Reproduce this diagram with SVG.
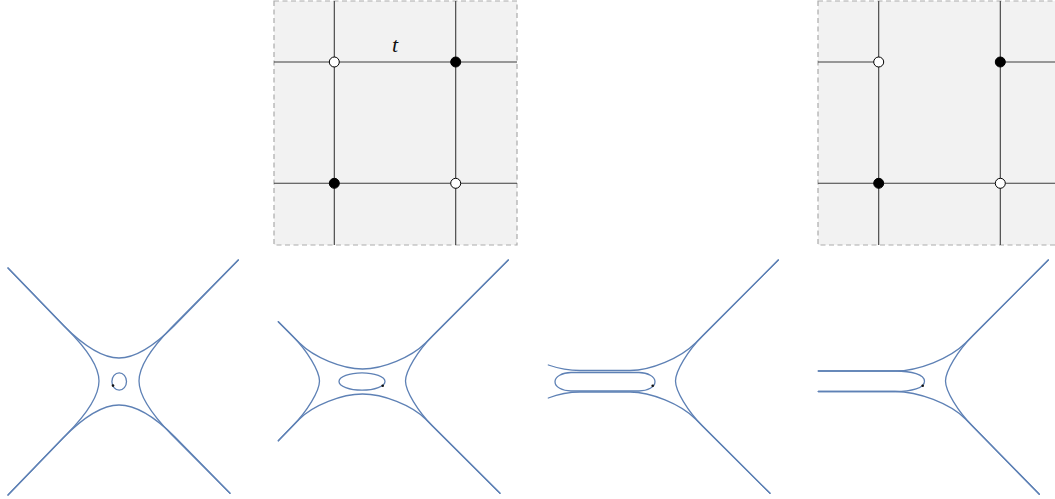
<svg xmlns="http://www.w3.org/2000/svg" width="1055" height="499" viewBox="0 0 1055 499">
<style>
.box{fill:#f2f2f2;stroke:#ababab;stroke-width:1.2;stroke-dasharray:5 3.5}
.grid{stroke:#3c3c3c;stroke-width:1.1;fill:none}
.wd{fill:#ffffff;stroke:#000;stroke-width:1}
.bd{fill:#000;stroke:#000;stroke-width:1}
.cv{fill:none;stroke:#5E81B5;stroke-width:1.3;stroke-linejoin:round;stroke-linecap:round}
.pt{fill:#111}
.lbl{font-family:"Liberation Serif","DejaVu Serif",serif;font-style:italic;font-size:22px;fill:#111}
</style>
<rect width="1055" height="499" fill="#ffffff"/>

<g id="box-middle">
<rect class="box" x="274" y="1" width="243" height="244"/>
<g class="grid">
<line x1="334.3" y1="1" x2="334.3" y2="245"/>
<line x1="455.7" y1="1" x2="455.7" y2="245"/>
<line x1="274" y1="62" x2="517" y2="62"/>
<line x1="274" y1="183.3" x2="517" y2="183.3"/>
</g>
<circle class="wd" cx="334.3" cy="62" r="5"/>
<circle class="bd" cx="455.7" cy="62" r="5"/>
<circle class="bd" cx="334.3" cy="183.3" r="5"/>
<circle class="wd" cx="455.7" cy="183.3" r="5"/>
<text class="lbl" x="395" y="51.5" text-anchor="middle">t</text>
</g>

<g id="box-right">
<rect class="box" x="818" y="1" width="243" height="244"/>
<g class="grid">
<line x1="878.7" y1="1" x2="878.7" y2="245"/>
<line x1="1000.3" y1="1" x2="1000.3" y2="245"/>
<line x1="818" y1="62" x2="878.7" y2="62"/>
<line x1="1000.3" y1="62" x2="1061" y2="62"/>
<line x1="818" y1="183.3" x2="1061" y2="183.3"/>
</g>
<circle class="wd" cx="878.7" cy="62" r="5"/>
<circle class="bd" cx="1000.3" cy="62" r="5"/>
<circle class="bd" cx="878.7" cy="183.3" r="5"/>
<circle class="wd" cx="1000.3" cy="183.3" r="5"/>
</g>

<g id="panel-1">
<path class="cv" d="M 8,268 L 64,326 Q 96,358 119,358 Q 142,358 174,326 L 238.3,260"/>
<path class="cv" d="M 8,495 L 63,438 Q 95.5,405 119,405 Q 143,405 175,437 L 230,493.3"/>
<path class="cv" d="M 8,268 L 67,329 Q 99,361 99,381 Q 99,401.5 67,434 L 8,495"/>
<path class="cv" d="M 238.3,260 L 171,328 Q 139,361 139,381 Q 139,401 171,434 L 230,493.3"/>
<ellipse class="cv" cx="119.2" cy="381.5" rx="7.3" ry="8.7"/>
<circle class="pt" cx="113" cy="385.6" r="1.3"/>
</g>

<g id="panel-2">
<path class="cv" d="M 278.3,321.7 L 299.5,343 C 313.8,357.3 342.2,369 362.5,369 C 382.85,369 411.2,357.3 425.5,343 L 508.3,260"/>
<path class="cv" d="M 278.3,440.7 L 299.5,419 C 313.25,405.25 341.6,394 362.5,394 C 383.4,394 411.75,405.25 425.5,419 L 500,493.3"/>
<path class="cv" d="M 278.3,321.7 L 292.5,336 C 307.35,350.85 319.5,371.1 319.5,381 C 319.5,390.9 307.35,411.15 292.5,426 L 278.3,440.7"/>
<path class="cv" d="M 508.3,260 L 432.5,336 C 417.65,350.85 405.5,371.1 405.5,381 C 405.5,390.9 417.65,411.15 432.5,426 L 500,493.3"/>
<ellipse class="cv" cx="362" cy="381.5" rx="23" ry="8.7"/>
<circle class="pt" cx="382.7" cy="385.7" r="1.3"/>
</g>

<g id="panel-3">
<path class="cv" d="M 548.3,365 C 560,369 568,370.5 580,370.5 L 630,370.5 C 650.9,370.5 680.4,358.1 695.5,343 L 778.3,260"/>
<path class="cv" d="M 548.3,398 C 560,393.5 568,392 580,392 L 630,392 C 650.9,392 680.65,404.15 695.5,419 L 770,493.3"/>
<path class="cv" d="M 778.3,260 L 702.5,336 C 687.65,350.85 675.5,371.1 675.5,381 C 675.5,390.9 687.65,411.15 702.5,426 L 770,493.3"/>
<rect class="cv" x="555" y="372.5" width="100" height="18.5" rx="16" ry="9.25"/>
<circle class="pt" cx="652.7" cy="385.7" r="1.3"/>
</g>

<g id="panel-4">
<path class="cv" d="M 818.3,371 L 895,371 C 918.4,371 950.1,358.4 965.5,343 L 1048.3,260"/>
<path class="cv" d="M 818.3,391.5 L 895,391.5 C 918.4,391.5 950.1,403.6 965.5,419 L 1039.3,494.3"/>
<path class="cv" d="M 1048.3,260 L 972.5,336 C 957.65,350.85 945.5,371.1 945.5,381 C 945.5,390.9 957.65,411.15 972.5,426 L 1039.3,494.3"/>
<path class="cv" d="M 818.3,371 L 895,371 C 912,371 924.5,374.5 924.5,381.2 C 924.5,388 912,391.5 895,391.5 L 818.3,391.5"/>
<circle class="pt" cx="922.7" cy="385.7" r="1.3"/>
</g>
</svg>
